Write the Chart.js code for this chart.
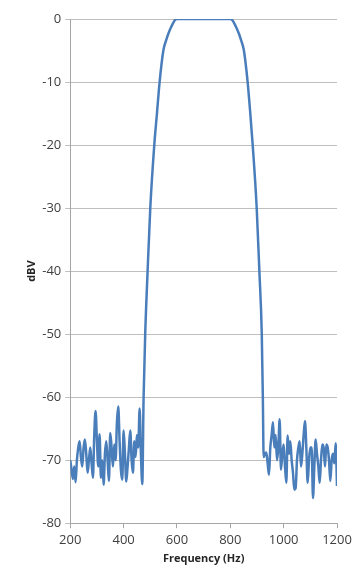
<!DOCTYPE html>
<html>
<head>
<meta charset="utf-8">
<script src="https://cdn.jsdelivr.net/npm/chart.js@4.4.1/dist/chart.umd.min.js"></script>
<style>
  html, body { margin: 0; padding: 0; background: #fff; }
  #wrap { width: 360px; height: 568px; position: relative; }
</style>
</head>
<body>
<div id="wrap"><canvas id="filterChart"></canvas></div>
<script>
// Frequency (Hz) and level (dBV)
var freqHz = [
    200, 205, 210, 215, 220, 225, 230, 235, 240, 245, 250, 255, 260, 265, 270, 275, 280, 285, 290, 295,
    300, 305, 310, 315, 320, 325, 330, 335, 340, 345, 350, 355, 360, 365, 370, 375, 380, 385, 390, 395,
    400, 405, 410, 415, 420, 425, 430, 435, 440, 445, 450, 455, 460, 465, 470,
    475, 481, 490, 500, 515, 525, 535, 549, 560, 568, 577, 585, 592, 600,
    700,
    800, 808, 815, 823, 832, 840, 851, 865, 875, 884, 899, 909, 918, 922,
    925, 930, 935, 940, 945, 950, 955, 960, 965, 970, 975, 980, 985, 990, 995,
    1000, 1005, 1010, 1015, 1020, 1025, 1030, 1035, 1040, 1045, 1050, 1055, 1060, 1065, 1070, 1075, 1080, 1085, 1090, 1095,
    1100, 1105, 1110, 1115, 1120, 1125, 1130, 1135, 1140, 1145, 1150, 1155, 1160, 1165, 1170, 1175, 1180, 1185, 1190, 1195, 1200
];
var levelDbv = [
    -70, -71.5, -73, -71, -73.5, -70, -68, -67, -69.5, -71, -68, -66.7, -69, -72, -70, -68, -70.5, -72.8, -66, -62.2,
    -67, -71, -65.9, -72.8, -70, -73.9, -69, -67, -70, -73.3, -65.7, -68, -71, -67.5, -70, -64, -61.5, -67, -71.6, -73.1,
    -65.3, -69, -73.4, -71, -68, -65.3, -70, -72, -67, -69.5, -66, -68, -61.8, -69, -73.8,
    -60, -50, -40, -30, -20, -15, -10, -5, -3.3, -2.3, -1.4, -0.7, -0.2, 0,
    0,
    0, -0.2, -0.7, -1.4, -2.3, -3.3, -5, -10, -15, -20, -30, -40, -50, -60,
    -69.5, -69, -68.8, -70.5, -72.3, -68, -66, -64, -68, -66, -70, -68, -63.5, -71.5, -69,
    -67.5, -71, -73.6, -66.1, -69, -67, -70, -72, -74.7, -74.4, -70, -68, -67, -71, -69, -66, -63.8, -68, -73.6, -70,
    -68, -68, -76, -71, -66.7, -69, -71, -73.6, -70, -67.5, -68, -71, -67.5, -68, -70, -73.3, -70, -69, -70.5, -67.3, -74.1
];
var xTicks = [200, 400, 600, 800, 1000, 1200];
var yTicks = [0, -10, -20, -30, -40, -50, -60, -70, -80];

var points = freqHz.map(function(f, i) { return { x: f, y: levelDbv[i] }; });

var ctx = document.getElementById('filterChart').getContext('2d');
var filterChart = new Chart(ctx, {
    type: 'scatter',
    data: {
        datasets: [{
            label: 'dBV',
            data: points,
            showLine: true,
            borderColor: '#4a7ebb',
            borderWidth: 2.5,
            pointRadius: 0,
            cubicInterpolationMode: 'monotone'
        }]
    },
    options: {
        responsive: true,
        maintainAspectRatio: false,
        animation: false,
        layout: { padding: { top: 19, right: 23, bottom: 3, left: 25 } },
        plugins: {
            legend: { display: false },
            tooltip: { enabled: false }
        },
        scales: {
            x: {
                type: 'linear',
                min: 200,
                max: 1200,
                afterBuildTicks: function(axis) {
                    axis.ticks = xTicks.map(function(v) { return { value: v }; });
                },
                grid: { drawOnChartArea: false, drawTicks: true, tickLength: 5, color: '#a6a6a6' },
                border: { color: '#a6a6a6' },
                ticks: {
                    color: '#404040',
                    padding: 4,
                    maxRotation: 0,
                    font: { family: 'Open Sans', size: 13 },
                    callback: function(v) { return String(v); }
                },
                title: {
                    display: true,
                    text: 'Frequency (Hz)',
                    color: '#262626',
                    padding: { top: 0, bottom: 0 },
                    font: { family: 'Open Sans', size: 11, weight: 'bold' }
                }
            },
            y: {
                min: -80,
                max: 0,
                afterBuildTicks: function(axis) {
                    axis.ticks = yTicks.map(function(v) { return { value: v }; });
                },
                grid: { color: '#bfbfbf', tickLength: 5 },
                border: { color: '#a6a6a6' },
                ticks: {
                    color: '#404040',
                    padding: 4,
                    font: { family: 'Open Sans', size: 13 },
                    callback: function(v) { return String(v); }
                },
                title: {
                    display: true,
                    text: 'dBV',
                    color: '#262626',
                    padding: { top: 0, bottom: 0 },
                    font: { family: 'Open Sans', size: 11, weight: 'bold' }
                }
            }
        }
    }
});
</script>
</body>
</html>
